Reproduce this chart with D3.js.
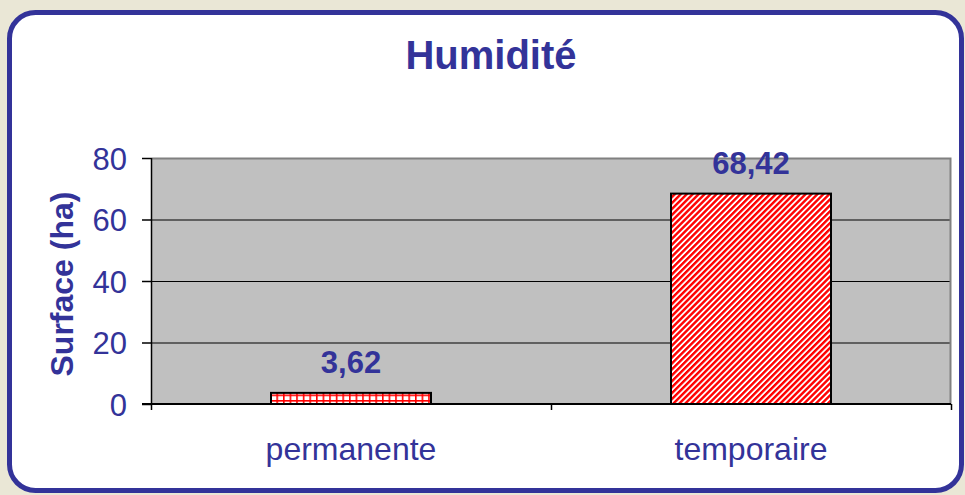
<!DOCTYPE html>
<html><head>
<meta charset="utf-8">
<script src="https://d3js.org/d3.v7.min.js"></script>
<style>
  body { margin: 0; background: #eae7d6; }
  text { font-family: "Liberation Sans", Arial, sans-serif; fill: #333399; }
  .grid line { stroke: #000; }
  .grid .domain { stroke: none; }
</style>
</head>
<body>
<svg id="chart" width="965" height="495"></svg>
<script>
  // data
  const categories = ['permanente', 'temporaire'];
  const surfaces = [3.62, 68.42];
  const valueLabels = ['3,62', '68,42'];
  const patterns = ['grid', 'diag'];
  const yTicks = [0, 20, 40, 60, 80];

  const svg = d3.select('svg#chart');
  const width = +svg.attr('width');
  const height = +svg.attr('height');

  // panel
  svg.append('rect')
     .attr('x', 9.5).attr('y', 12.5)
     .attr('width', 952).attr('height', 478)
     .attr('rx', 26).attr('ry', 26)
     .attr('fill', '#fff')
     .attr('stroke', '#333399')
     .attr('stroke-width', 5);

  // hatch patterns
  const defs = svg.append('defs');
  const pg = defs.append('pattern').attr('id', 'grid')
     .attr('patternUnits', 'userSpaceOnUse').attr('width', 6.6).attr('height', 5.5);
  pg.append('rect').attr('width', 6.6).attr('height', 5.5).attr('fill', '#fff');
  pg.append('rect').attr('x', 0).attr('y', 0).attr('width', 6.6).attr('height', 1.6).attr('fill', '#ff0000');
  pg.append('rect').attr('x', 0).attr('y', 0).attr('width', 1.6).attr('height', 5.5).attr('fill', '#ff0000');

  const pd = defs.append('pattern').attr('id', 'diag')
     .attr('patternUnits', 'userSpaceOnUse').attr('width', 4.2).attr('height', 4.2)
     .attr('patternTransform', 'rotate(45)');
  pd.append('rect').attr('width', 4.2).attr('height', 4.2).attr('fill', '#fff');
  pd.append('rect').attr('x', 0).attr('y', 0).attr('width', 2.4).attr('height', 4.2).attr('fill', '#ff0000');

  const margins = {top: 158, right: 14, bottom: 91, left: 151};
  const chartWidth = width - margins.left - margins.right;
  const chartHeight = height - margins.top - margins.bottom;

  const chartArea = svg.append('g')
     .attr('transform', `translate(${margins.left}, ${margins.top})`);

  const xScale = d3.scaleBand().domain(categories).range([0, chartWidth]).paddingInner(0.6).paddingOuter(0.3);
  const xBounds = d3.scaleLinear().domain([0, categories.length]).range([0, chartWidth]);
  const yScale = d3.scaleLinear().domain([0, 80]).range([chartHeight, 0]);

  // plot background
  chartArea.append('rect')
     .attr('width', chartWidth).attr('height', chartHeight)
     .attr('fill', '#c0c0c0');

  // gridlines
  chartArea.append('g').attr('class', 'grid')
     .call(d3.axisLeft(yScale).tickValues(yTicks.slice(1)).tickSize(-chartWidth).tickFormat(''));

  // plot border (top and right in gray)
  chartArea.append('path')
     .attr('d', `M0,0.5H${chartWidth - 0.5}V${chartHeight}`)
     .attr('fill', 'none').attr('stroke', '#808080').attr('stroke-width', 2);

  // bars
  chartArea.selectAll('rect.bar')
     .data(categories)
     .join('rect')
     .attr('class', 'bar')
     .attr('x', d => xScale(d))
     .attr('y', (d, i) => yScale(surfaces[i]))
     .attr('width', xScale.bandwidth())
     .attr('height', (d, i) => chartHeight - yScale(surfaces[i]))
     .attr('fill', (d, i) => `url(#${patterns[i]})`)
     .attr('stroke', '#000').attr('stroke-width', 2);

  // value labels
  chartArea.selectAll('text.val')
     .data(categories)
     .join('text')
     .attr('class', 'val')
     .attr('x', d => xScale(d) + xScale.bandwidth() / 2)
     .attr('y', (d, i) => yScale(surfaces[i]) - 20)
     .attr('text-anchor', 'middle')
     .attr('font-size', 31).attr('font-weight', 'bold')
     .text((d, i) => valueLabels[i]);

  // y axis
  const yAxis = chartArea.append('g')
     .call(d3.axisLeft(yScale).tickValues(yTicks).tickSize(9).tickPadding(15));
  yAxis.select('.domain').attr('stroke', '#000').attr('stroke-width', 1.5).attr('d', `M0.5,0V${chartHeight}`);
  yAxis.selectAll('.tick line').attr('stroke', '#000').attr('stroke-width', 1.5);
  yAxis.selectAll('.tick text').attr('font-size', 31).attr('font-family', '"Liberation Sans", Arial, sans-serif')
       .attr('fill', '#333399').attr('dy', '0.36em');

  // x axis with category boundary ticks
  const xAxis = chartArea.append('g')
     .attr('transform', `translate(0, ${chartHeight})`)
     .call(d3.axisBottom(xBounds).ticks(categories.length).tickSize(6).tickFormat(''));
  xAxis.select('.domain').attr('stroke', '#000').attr('stroke-width', 2).attr('d', `M-9,0H${chartWidth}`);
  xAxis.selectAll('.tick line').attr('stroke', '#000').attr('stroke-width', 1.5);

  // category labels
  chartArea.selectAll('text.cat')
     .data(categories)
     .join('text')
     .attr('class', 'cat')
     .attr('x', d => xScale(d) + xScale.bandwidth() / 2)
     .attr('y', chartHeight + 56)
     .attr('text-anchor', 'middle')
     .attr('font-size', 32)
     .text(d => d);

  // title
  svg.append('text')
     .attr('x', 491).attr('y', 69)
     .attr('text-anchor', 'middle')
     .attr('font-size', 40).attr('font-weight', 'bold')
     .text('Humidité');

  // y axis title
  svg.append('text')
     .attr('transform', `translate(73, 284) rotate(-90)`)
     .attr('text-anchor', 'middle')
     .attr('font-size', 32).attr('font-weight', 'bold')
     .text('Surface (ha)');
</script>
</body>
</html>
